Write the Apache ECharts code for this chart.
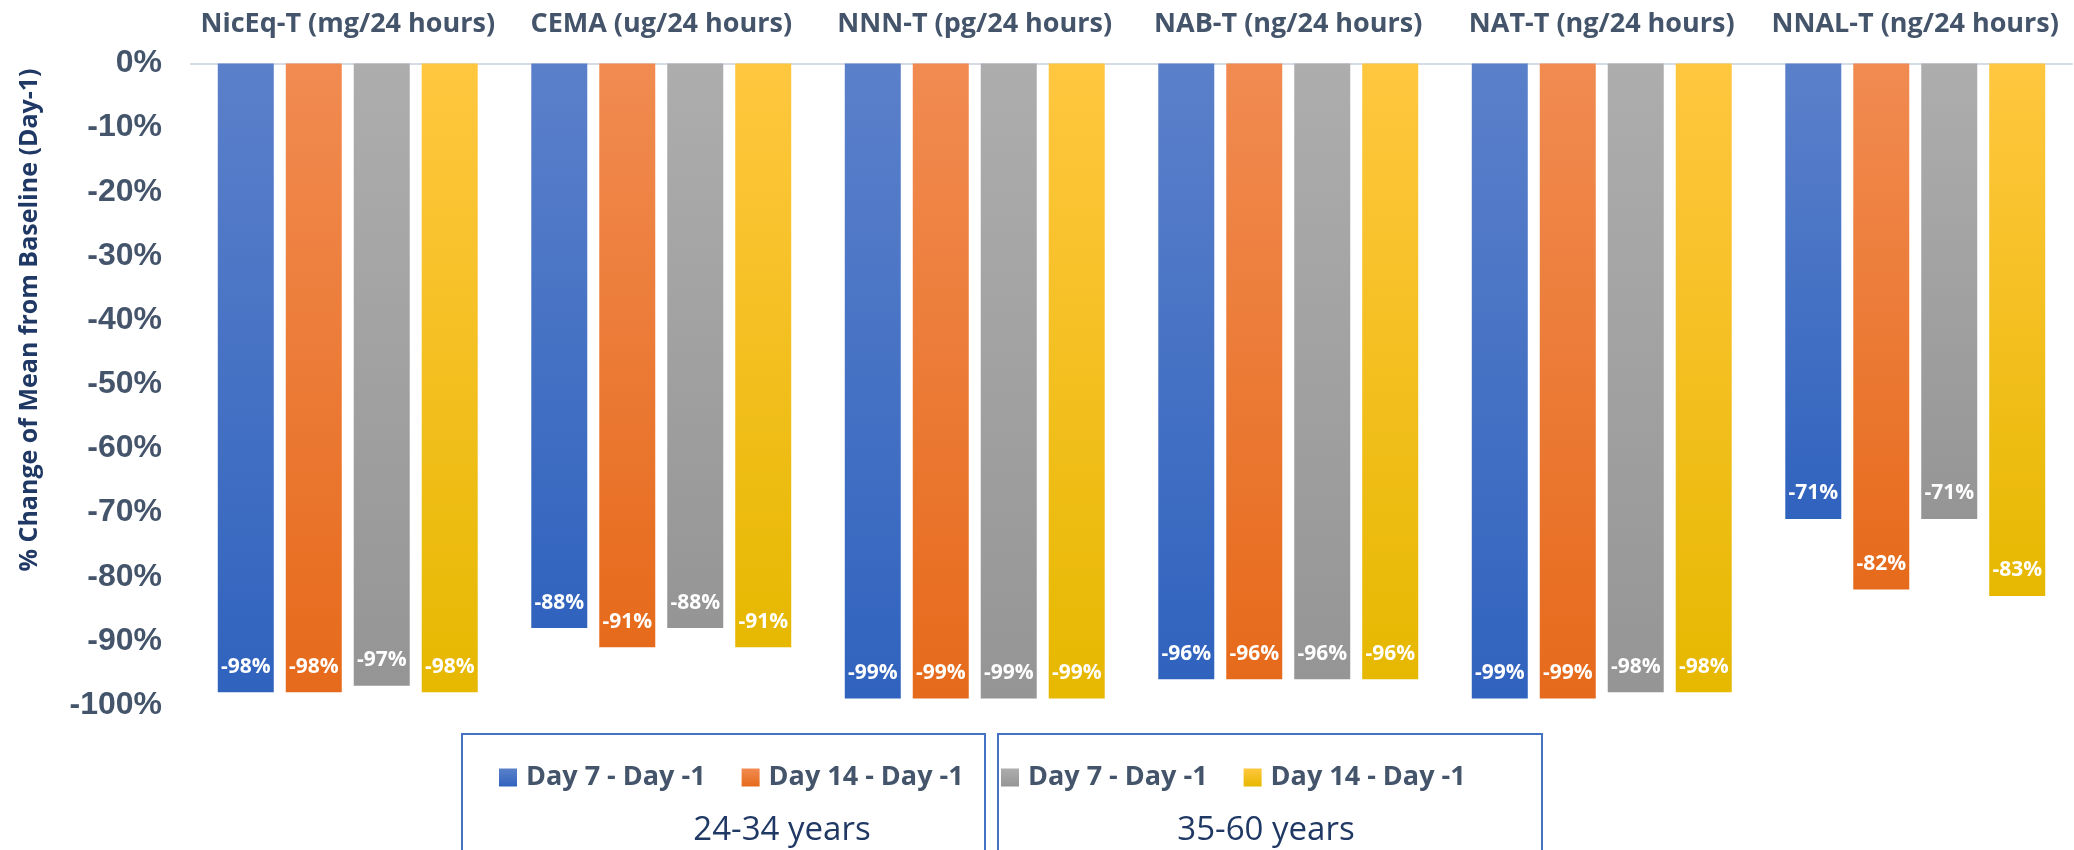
<!DOCTYPE html>
<html>
<head>
<meta charset="utf-8">
<script src="https://cdn.jsdelivr.net/npm/echarts@6/dist/echarts.min.js"></script>
<style>
html,body{margin:0;padding:0;background:#fff;}
#chart{width:2074px;height:850px;}
</style>
</head>
<body>
<div id="chart"></div>
<script>
// ---- Data ----
const categories = ['NicEq-T (mg/24 hours)', 'CEMA (ug/24 hours)', 'NNN-T (pg/24 hours)', 'NAB-T (ng/24 hours)', 'NAT-T (ng/24 hours)', 'NNAL-T (ng/24 hours)'];
const seriesNames = ['Day 7 - Day -1', 'Day 14 - Day -1', 'Day 7 - Day -1', 'Day 14 - Day -1'];
const groupNames = ['24-34 years', '35-60 years'];
const young_day7 = [-98, -88, -99, -96, -99, -71];
const young_day14 = [-98, -91, -99, -96, -99, -82];
const old_day7 = [-97, -88, -99, -96, -98, -71];
const old_day14 = [-98, -91, -99, -96, -98, -83];
const yTicks = { min: -100, max: 0, interval: 10 };
const yTitle = '% Change of Mean from Baseline (Day-1)';

// ---- Styling ----
const gradients = [
  ['#5B80CA', '#3063BE'],
  ['#F18B51', '#E66A1B'],
  ['#ADADAD', '#959595'],
  ['#FFC73F', '#E6B800']
];
const seriesData = [young_day7, young_day14, old_day7, old_day14];
const keys = ['s0', 's1', 's2', 's3'];
const fullNames = keys.map((k, i) => seriesNames[i] + ' | ' + groupNames[Math.floor(i / 2)]);

const chart = echarts.init(document.getElementById('chart'), null, { renderer: 'canvas' });

const series = seriesData.map((d, i) => ({
  name: fullNames[i],
  type: 'bar',
  data: d,
  barWidth: 56,
  barGap: '21.4%',
  itemStyle: {
    color: new echarts.graphic.LinearGradient(0, 0, 0, 1, [
      { offset: 0, color: gradients[i][0] },
      { offset: 1, color: gradients[i][1] }
    ])
  },
  label: {
    show: true,
    position: 'insideBottom',
    distance: 15,
    formatter: p => p.value + '%',
    color: '#fff',
    fontFamily: 'Open Sans',
    fontWeight: 'bold',
    fontSize: 21
  }
}));

const legendCommon = {
  orient: 'horizontal',
  top: 764,
  padding: 0,
  itemWidth: 18,
  itemHeight: 18,
  itemGap: 36,
  icon: 'rect',
  formatter: n => n.split(' | ')[0],
  textStyle: {
    fontFamily: 'Open Sans',
    fontWeight: 'bold',
    fontSize: 27,
    color: '#44546A',
    padding: [0, 0, 0, 4]
  },
  selectedMode: false
};

const option = {
  backgroundColor: '#fff',
  animation: false,
  grid: { left: 191, right: 2, top: 63.5, bottom: 145, containLabel: false },
  xAxis: {
    type: 'category',
    position: 'top',
    data: categories,
    axisTick: { show: false },
    axisLine: { show: true, lineStyle: { color: '#D6DCE5', width: 2 } },
    axisLabel: {
      interval: 0,
      margin: 26,
      fontFamily: 'Open Sans',
      fontWeight: 'bold',
      fontSize: 27,
      color: '#44546A'
    }
  },
  yAxis: {
    type: 'value',
    min: yTicks.min,
    max: yTicks.max,
    interval: yTicks.interval,
    axisLine: { show: false },
    axisTick: { show: false },
    splitLine: { show: false },
    axisLabel: {
      margin: 29,
      formatter: v => v + '%',
      fontFamily: 'Liberation Sans',
      fontWeight: 'bold',
      fontSize: 32,
      color: '#44546A'
    }
  },
  legend: [
    Object.assign({}, legendCommon, { left: 499, data: [fullNames[0], fullNames[1]] }),
    Object.assign({}, legendCommon, { left: 1001, data: [fullNames[2], fullNames[3]] })
  ],
  graphic: [
    { type: 'rect', shape: { x: 462, y: 734, width: 523, height: 140 }, style: { fill: 'none', stroke: '#4472C4', lineWidth: 2 }, z: 0 },
    { type: 'rect', shape: { x: 998, y: 734, width: 544, height: 140 }, style: { fill: 'none', stroke: '#4472C4', lineWidth: 2 }, z: 0 },
    { type: 'text', x: 782, y: 831, style: { text: groupNames[0], fill: '#1F3864', fontFamily: 'Open Sans', fontSize: 33, align: 'center', verticalAlign: 'middle' } },
    { type: 'text', x: 1266, y: 831, style: { text: groupNames[1], fill: '#1F3864', fontFamily: 'Open Sans', fontSize: 33, align: 'center', verticalAlign: 'middle' } },
    { type: 'text', x: 30, y: 320, rotation: Math.PI / 2, style: { text: yTitle, fill: '#1F3864', fontFamily: 'Open Sans', fontWeight: 'bold', fontSize: 25, align: 'center', verticalAlign: 'middle' } }
  ],
  series: series
};

chart.setOption(option);
</script>
</body>
</html>
